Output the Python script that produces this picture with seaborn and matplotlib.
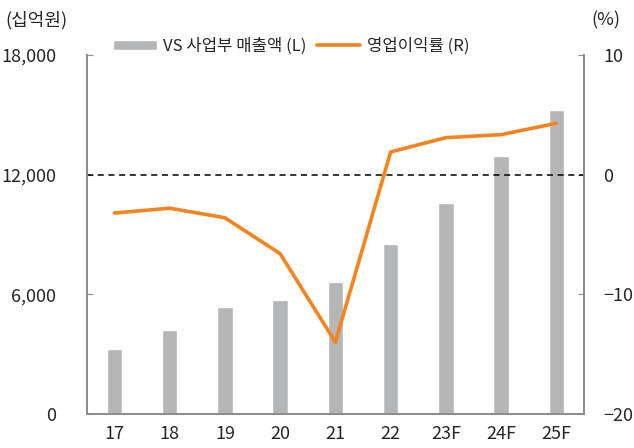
import numpy as np
import pandas as pd
import matplotlib.pyplot as plt
from matplotlib.ticker import FuncFormatter, FixedLocator
import seaborn as sns

# data
years = ['17', '18', '19', '20', '21', '22', '23F', '24F', '25F']
sales = [3250, 4200, 5370, 5700, 6620, 8540, 10560, 12950, 15260]
margin = [-3.2, -2.8, -3.6, -6.6, -14.0, 1.9, 3.1, 3.35, 4.3]

left_ticks = [0, 6000, 12000, 18000]
right_ticks = [-20, -10, 0, 10]

sns.set_style('white')
plt.rcParams['font.family'] = ['Noto Sans CJK KR', 'DejaVu Sans']
plt.rcParams['axes.unicode_minus'] = True

bar_color = '#b5b6b8'
line_color = '#f5841f'
spine_color = '#8c8c8c'

df = pd.DataFrame({'year': years, 'sales': sales, 'margin': margin})

fig = plt.figure(figsize=(6.34, 4.48), dpi=100)
ax = fig.add_axes([0.137, 0.076, 0.784, 0.801])

sns.barplot(data=df, x='year', y='sales', color=bar_color, width=0.28,
            saturation=1, ax=ax, label='VS 사업부 매출액 (L)')
ax.set_xlim(-0.5, len(years) - 0.5)
ax.set_ylim(0, 18000)
ax.set_yticks(left_ticks)
ax.yaxis.set_major_formatter(FuncFormatter(lambda v, p: f'{int(v):,}'))
ax.set_xlabel('')
ax.set_ylabel('')

ax2 = ax.twinx()
sns.lineplot(x=np.arange(len(years)), y=df['margin'], color=line_color,
             linewidth=2.6, ax=ax2, label='영업이익률 (R)', legend=False)
ax2.axhline(0, color='black', linestyle=(0, (4, 3)), linewidth=1.1)
ax2.set_ylim(-20, 10)
ax2.set_yticks(right_ticks)
ax2.set_ylabel('')

for a in (ax, ax2):
    for s in a.spines.values():
        s.set_color(spine_color)
        s.set_linewidth(1.3)
    a.spines['top'].set_visible(False)

ax.tick_params(axis='y', direction='in', length=4, color=spine_color,
               labelsize=13, pad=22)
ax2.tick_params(axis='y', direction='in', length=4, color=spine_color,
                labelsize=13, pad=14)
ax.tick_params(axis='x', which='major', length=0, labelsize=13, pad=8)
ax.xaxis.set_minor_locator(FixedLocator(np.arange(0.5, len(years) - 1, 1)))
ax.tick_params(axis='x', which='minor', direction='in', length=4,
               color=spine_color)

fig.text(0.008, 0.955, '(십억원)', fontsize=13, ha='left', va='center')
fig.text(0.978, 0.955, '(%)', fontsize=13, ha='right', va='center')

h1, l1 = ax.get_legend_handles_labels()
h2, l2 = ax2.get_legend_handles_labels()
ax.legend(h1 + h2, l1 + l2, loc='center left', bbox_to_anchor=(0.03, 1.025),
          ncol=2, frameon=False, fontsize=12, handlelength=2.6,
          handleheight=0.5, columnspacing=0.6, handletextpad=0.4,
          borderpad=0.2)

fig.savefig('out.png', dpi=100)
